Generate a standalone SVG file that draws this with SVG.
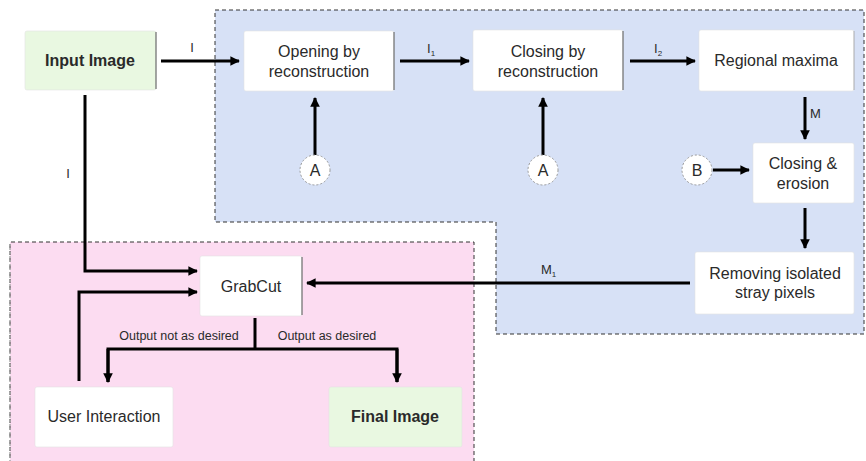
<svg xmlns="http://www.w3.org/2000/svg" width="866" height="461" viewBox="0 0 866 461">
  <style>
    .node rect { fill: #ffffff; stroke: #e2e2e2; stroke-width: 0.6; }
    .node.green rect { fill: #e9f8e1; }
    .node .edge { stroke: #555; stroke-width: 1; }
    .node text { font-family: "Liberation Sans", Arial, sans-serif; font-size: 16px; fill: #2a2a2a; text-anchor: middle; }
    .node.bold text { font-weight: bold; }
    .circ circle { fill: #ffffff; stroke: #999; stroke-width: 1; stroke-dasharray: 2 2; }
    .circ text { font-family: "Liberation Sans", Arial, sans-serif; font-size: 16px; fill: #2a2a2a; text-anchor: middle; }
    .conn path { fill: none; stroke: #000; stroke-width: 3; }
    .lbl { font-family: "Liberation Sans", Arial, sans-serif; font-size: 13px; fill: #2a2a2a; }
    .sub { font-size: 8px; }
    .small { font-family: "Liberation Sans", Arial, sans-serif; font-size: 12.5px; fill: #2a2a2a; text-anchor: middle; }
    .region { stroke: #333; stroke-width: 1; stroke-dasharray: 4 3; }
  </style>
  <defs>
    <marker id="ah" viewBox="0 0 10 10" refX="9" refY="5" markerWidth="3.2" markerHeight="3.2" orient="auto" markerUnits="strokeWidth">
      <path d="M0,0 L10,5 L0,10 z" fill="#000"/>
    </marker>
  </defs>

  <rect width="866" height="461" fill="#ffffff"/>

  <!-- processing regions -->
  <path class="region" d="M215,10 H864 V334 H496 V222 H215 Z" fill="#d7e1f6"/>
  <path class="region" d="M10,465 V242 H474 V465" fill="#fcdcf1"/>
  <line x1="10" y1="244" x2="10" y2="461" stroke="#aaa" stroke-width="1.5" stroke-dasharray="2 2"/>

  <!-- connectors -->
  <g id="connectors" class="conn">
    <path d="M161,61 H239" marker-end="url(#ah)"/>
    <path d="M400,61 H469" marker-end="url(#ah)"/>
    <path d="M630,61 H695" marker-end="url(#ah)"/>
    <path d="M805,97 V139" marker-end="url(#ah)"/>
    <path d="M713,170 H749" marker-end="url(#ah)"/>
    <path d="M315,155 V98" marker-end="url(#ah)"/>
    <path d="M543,155 V98" marker-end="url(#ah)"/>
    <path d="M805,208 V248" marker-end="url(#ah)"/>
    <path d="M690,283 H307" marker-end="url(#ah)"/>
    <path d="M85,95 V271 H197" marker-end="url(#ah)"/>
    <path d="M79,381 V292 H197" marker-end="url(#ah)"/>
    <path d="M255,318 V349"/>
    <path d="M108,382 V349 H397 V382"/>
    <path d="M108,349 V382" marker-end="url(#ah)"/>
    <path d="M397,349 V382" marker-end="url(#ah)"/>
  </g>

  <!-- connector labels -->
  <g id="labels">
    <text class="lbl" x="192" y="52" text-anchor="middle">I</text>
    <text class="lbl" x="427" y="53">I<tspan class="sub" dy="3">1</tspan></text>
    <text class="lbl" x="654" y="53">I<tspan class="sub" dy="3">2</tspan></text>
    <text class="lbl" x="810" y="118">M</text>
    <text class="lbl" x="68" y="178" text-anchor="middle">I</text>
    <text class="lbl" x="541" y="274">M<tspan class="sub" dy="3">1</tspan></text>
    <text class="small" x="179" y="340">Output not as desired</text>
    <text class="small" x="327" y="340">Output as desired</text>
  </g>

  <!-- nodes -->
  <g id="input-image" class="node green bold">
    <rect x="25" y="31" width="131" height="59" rx="2"/>
    <line class="edge" x1="156" y1="32" x2="156" y2="89"/>
    <text x="90" y="66">Input Image</text>
  </g>
  <g id="opening" class="node">
    <rect x="244" y="31" width="150" height="60" rx="2"/>
    <line class="edge" x1="394" y1="32" x2="394" y2="90"/>
    <text x="319" y="57">Opening by</text>
    <text x="319" y="77">reconstruction</text>
  </g>
  <g id="closing" class="node">
    <rect x="473" y="30" width="150" height="61" rx="2"/>
    <line class="edge" x1="623" y1="31" x2="623" y2="90"/>
    <text x="548" y="57">Closing by</text>
    <text x="548" y="77">reconstruction</text>
  </g>
  <g id="regional-maxima" class="node">
    <rect x="699" y="30" width="155" height="61" rx="2"/>
    <line class="edge" x1="854" y1="31" x2="854" y2="90" stroke-opacity="0.4"/>
    <text x="776" y="66">Regional maxima</text>
  </g>
  <g id="closing-erosion" class="node">
    <rect x="753" y="143" width="101" height="60" rx="2"/>
    <text x="803" y="169">Closing &amp;</text>
    <text x="803" y="189">erosion</text>
  </g>
  <g id="removing" class="node">
    <rect x="695" y="252" width="159" height="62" rx="2"/>
    <text x="775" y="279">Removing isolated</text>
    <text x="775" y="298">stray pixels</text>
  </g>
  <g id="grabcut" class="node">
    <rect x="200" y="256" width="102" height="60" rx="2"/>
    <line class="edge" x1="302" y1="257" x2="302" y2="315"/>
    <text x="251" y="292">GrabCut</text>
  </g>
  <g id="user-interaction" class="node">
    <rect x="35" y="387" width="138" height="60" rx="2"/>
    <text x="104" y="422">User Interaction</text>
  </g>
  <g id="final-image" class="node green bold">
    <rect x="329" y="387" width="133" height="60" rx="2"/>
    <text x="395" y="422">Final Image</text>
  </g>

  <!-- structuring-element inputs -->
  <g id="a1" class="circ">
    <circle cx="315" cy="170" r="15"/>
    <text x="315" y="176">A</text>
  </g>
  <g id="a2" class="circ">
    <circle cx="543" cy="170" r="15"/>
    <text x="543" y="176">A</text>
  </g>
  <g id="b" class="circ">
    <circle cx="697" cy="170" r="15"/>
    <text x="697" y="176">B</text>
  </g>
</svg>
